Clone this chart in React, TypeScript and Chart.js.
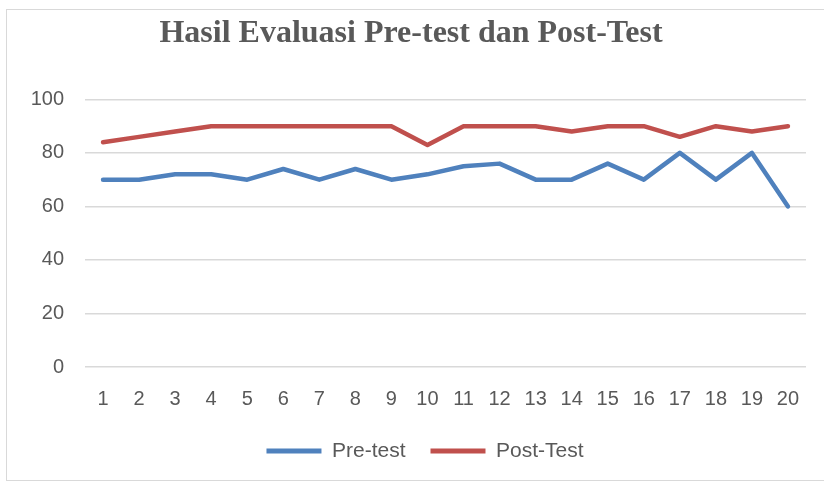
import React, { useEffect, useRef } from "react";
import { Chart, registerables } from "chart.js";

Chart.register(...registerables);

const categories = ["1","2","3","4","5","6","7","8","9","10","11","12","13","14","15","16","17","18","19","20"];
const preTest = [70, 70, 72, 72, 70, 74, 70, 74, 70, 72, 75, 76, 70, 70, 76, 70, 80, 70, 80, 60];
const postTest = [84, 86, 88, 90, 90, 90, 90, 90, 90, 83, 90, 90, 90, 88, 90, 90, 86, 90, 88, 90];
const yTicks = [0, 20, 40, 60, 80, 100];
const titleText = "Hasil Evaluasi Pre-test dan Post-Test";

const legendShift = {
  id: "legendShift",
  afterLayout(chart: any) {
    if (chart.legend) {
      chart.legend.left += 14;
      chart.legend.right += 14;
    }
  },
};

export default function App() {
  const ref = useRef<HTMLCanvasElement>(null);
  useEffect(() => {
    document.body.style.margin = "0";
    const ctx = ref.current!;
    const chart = new Chart(ctx, {
      type: "line",
      data: {
        labels: categories,
        datasets: [
          { label: "Pre-test", data: preTest, borderColor: "#4F81BD", backgroundColor: "#4F81BD", borderWidth: 4.5, pointRadius: 0, tension: 0, borderCapStyle: "round", borderJoinStyle: "round" },
          { label: "Post-Test", data: postTest, borderColor: "#C0504D", backgroundColor: "#C0504D", borderWidth: 4.5, pointRadius: 0, tension: 0, borderCapStyle: "round", borderJoinStyle: "round" },
        ],
      },
      plugins: [legendShift],
      options: {
        animation: false,
        responsive: false,
        layout: { padding: { left: 16, right: 18, top: 0, bottom: 11.5 } },
        plugins: {
          title: {
            display: true,
            text: titleText,
            color: "#595959",
            font: { family: "'Liberation Serif', 'DejaVu Serif', serif", size: 32, weight: "bold" },
            padding: { top: 15, bottom: 46 },
          },
          legend: {
            position: "bottom",
            labels: {
              color: "#595959",
              font: { family: "'Liberation Sans', sans-serif", size: 21 },
              boxWidth: 55,
              boxHeight: 5,
              useBorderRadius: true,
              borderRadius: 2.5,
              padding: 25,
              generateLabels: (c: any) =>
                c.data.datasets.map((d: any, i: number) => ({
                  text: d.label,
                  fillStyle: d.borderColor,
                  strokeStyle: d.borderColor,
                  lineWidth: 0,
                  fontColor: "#595959",
                  datasetIndex: i,
                  hidden: false,
                })),
            },
          },
          tooltip: { enabled: false },
        },
        scales: {
          x: {
            offset: true,
            grid: { display: false, drawTicks: false },
            border: { display: false },
            ticks: { color: "#595959", font: { family: "'Liberation Sans', sans-serif", size: 20 }, padding: 20, maxRotation: 0, autoSkip: false },
            afterFit: (s: any) => { s.height = 48.5; },
          },
          y: {
            min: 0,
            max: 100,
            afterBuildTicks: (s: any) => { s.ticks = yTicks.map((v) => ({ value: v })); },
            grid: { color: "#D9D9D9", lineWidth: 1.5, drawTicks: false },
            border: { display: false },
            ticks: { color: "#595959", font: { family: "'Liberation Sans', sans-serif", size: 20 }, padding: 21 },
            afterFit: (s: any) => { s.width = 69; },
          },
        },
      },
    });
    return () => chart.destroy();
  }, []);
  return (
    <div style={{ position: "relative", width: 824, height: 483, background: "#fff" }}>
      <div style={{ position: "absolute", left: 6, top: 9, width: 830, height: 470, border: "1px solid #D9D9D9" }} />
      <canvas ref={ref} width={824} height={483} style={{ position: "absolute", left: 0, top: 0 }} />
    </div>
  );
}
